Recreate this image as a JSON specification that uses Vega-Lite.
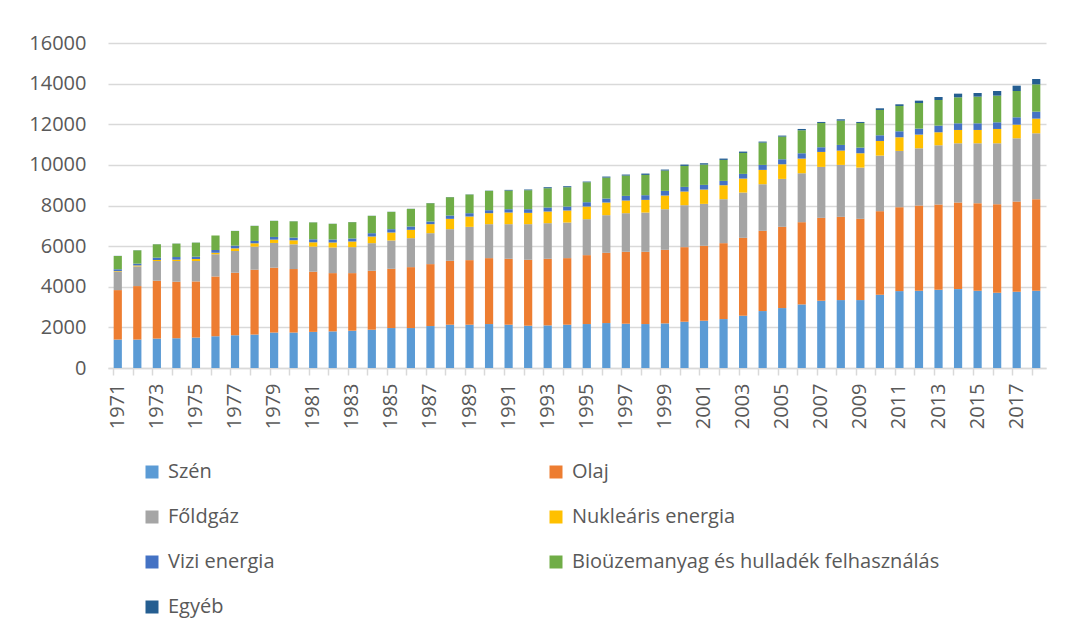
{
  "$schema": "https://vega.github.io/schema/vega-lite/v6.json",
  "autosize": "none",
  "width": 938,
  "height": 325,
  "padding": {"left": 108, "top": 43, "right": 23, "bottom": 265},
  "background": "white",
  "config": {
    "font": "Open Sans",
    "view": {"stroke": null},
    "axis": {"labelFont": "Open Sans", "labelColor": "#595959", "labelFontSize": 20}
  },
  "data": {
    "values": [
      {"ev": "1971", "Szén": 1400, "Olaj": 2435, "Főldgáz": 905, "Nukleáris energia": 30, "Vizi energia": 90, "Bioüzemanyag és hulladék felhasználás": 655, "Egyéb": 6},
      {"ev": "1972", "Szén": 1400, "Olaj": 2633, "Főldgáz": 970, "Nukleáris energia": 45, "Vizi energia": 90, "Bioüzemanyag és hulladék felhasználás": 655, "Egyéb": 6},
      {"ev": "1973", "Szén": 1448, "Olaj": 2848, "Főldgáz": 971, "Nukleáris energia": 50, "Vizi energia": 115, "Bioüzemanyag és hulladék felhasználás": 658, "Egyéb": 6},
      {"ev": "1974", "Szén": 1465, "Olaj": 2782, "Főldgáz": 1020, "Nukleáris energia": 66, "Vizi energia": 130, "Bioüzemanyag és hulladék felhasználás": 660, "Egyéb": 6},
      {"ev": "1975", "Szén": 1498, "Olaj": 2765, "Főldgáz": 1004, "Nukleáris energia": 99, "Vizi energia": 115, "Bioüzemanyag és hulladék felhasználás": 690, "Egyéb": 6},
      {"ev": "1976", "Szén": 1564, "Olaj": 2946, "Főldgáz": 1086, "Nukleáris energia": 83, "Vizi energia": 131, "Bioüzemanyag és hulladék felhasználás": 708, "Egyéb": 6},
      {"ev": "1977", "Szén": 1613, "Olaj": 3078, "Főldgáz": 1070, "Nukleáris energia": 131, "Vizi energia": 132, "Bioüzemanyag és hulladék felhasználás": 720, "Egyéb": 6},
      {"ev": "1978", "Szén": 1646, "Olaj": 3193, "Főldgáz": 1136, "Nukleáris energia": 165, "Vizi energia": 115, "Bioüzemanyag és hulladék felhasználás": 740, "Egyéb": 6},
      {"ev": "1979", "Szén": 1745, "Olaj": 3193, "Főldgáz": 1218, "Nukleáris energia": 164, "Vizi energia": 132, "Bioüzemanyag és hulladék felhasználás": 790, "Egyéb": 6},
      {"ev": "1980", "Szén": 1745, "Olaj": 3127, "Főldgáz": 1218, "Nukleáris energia": 198, "Vizi energia": 132, "Bioüzemanyag és hulladék felhasználás": 800, "Egyéb": 6},
      {"ev": "1981", "Szén": 1778, "Olaj": 2962, "Főldgáz": 1235, "Nukleáris energia": 214, "Vizi energia": 148, "Bioüzemanyag és hulladék felhasználás": 830, "Egyéb": 6},
      {"ev": "1982", "Szén": 1803, "Olaj": 2868, "Főldgáz": 1262, "Nukleáris energia": 246, "Vizi energia": 148, "Bioüzemanyag és hulladék felhasználás": 770, "Egyéb": 6},
      {"ev": "1983", "Szén": 1836, "Olaj": 2835, "Főldgáz": 1279, "Nukleáris energia": 278, "Vizi energia": 148, "Bioüzemanyag és hulladék felhasználás": 803, "Egyéb": 6},
      {"ev": "1984", "Szén": 1885, "Olaj": 2901, "Főldgáz": 1360, "Nukleáris energia": 328, "Vizi energia": 164, "Bioüzemanyag és hulladék felhasználás": 852, "Egyéb": 6},
      {"ev": "1985", "Szén": 1967, "Olaj": 2917, "Főldgáz": 1393, "Nukleáris energia": 394, "Vizi energia": 164, "Bioüzemanyag és hulladék felhasználás": 852, "Egyéb": 6},
      {"ev": "1986", "Szén": 1967, "Olaj": 2999, "Főldgáz": 1426, "Nukleáris energia": 410, "Vizi energia": 164, "Bioüzemanyag és hulladék felhasználás": 868, "Egyéb": 6},
      {"ev": "1987", "Szén": 2065, "Olaj": 3049, "Főldgáz": 1524, "Nukleáris energia": 443, "Vizi energia": 131, "Bioüzemanyag és hulladék felhasználás": 901, "Egyéb": 8},
      {"ev": "1988", "Szén": 2131, "Olaj": 3147, "Főldgáz": 1557, "Nukleáris energia": 508, "Vizi energia": 164, "Bioüzemanyag és hulladék felhasználás": 901, "Egyéb": 8},
      {"ev": "1989", "Szén": 2131, "Olaj": 3179, "Főldgáz": 1639, "Nukleáris energia": 509, "Vizi energia": 164, "Bioüzemanyag és hulladék felhasználás": 917, "Egyéb": 10},
      {"ev": "1990", "Szén": 2163, "Olaj": 3246, "Főldgáz": 1672, "Nukleáris energia": 541, "Vizi energia": 147, "Bioüzemanyag és hulladék felhasználás": 951, "Egyéb": 12},
      {"ev": "1991", "Szén": 2131, "Olaj": 3245, "Főldgáz": 1705, "Nukleáris energia": 573, "Vizi energia": 164, "Bioüzemanyag és hulladék felhasználás": 918, "Egyéb": 33},
      {"ev": "1992", "Szén": 2082, "Olaj": 3245, "Főldgáz": 1754, "Nukleáris energia": 557, "Vizi energia": 180, "Bioüzemanyag és hulladék felhasználás": 934, "Egyéb": 35},
      {"ev": "1993", "Szén": 2098, "Olaj": 3278, "Főldgáz": 1754, "Nukleáris energia": 574, "Vizi energia": 196, "Bioüzemanyag és hulladék felhasználás": 951, "Egyéb": 49},
      {"ev": "1994", "Szén": 2131, "Olaj": 3278, "Főldgáz": 1754, "Nukleáris energia": 590, "Vizi energia": 196, "Bioüzemanyag és hulladék felhasználás": 951, "Egyéb": 49},
      {"ev": "1995", "Szén": 2164, "Olaj": 3392, "Főldgáz": 1771, "Nukleáris energia": 622, "Vizi energia": 213, "Bioüzemanyag és hulladék felhasználás": 984, "Egyéb": 32},
      {"ev": "1996", "Szén": 2213, "Olaj": 3458, "Főldgáz": 1852, "Nukleáris energia": 623, "Vizi energia": 197, "Bioüzemanyag és hulladék felhasználás": 1032, "Egyéb": 49},
      {"ev": "1997", "Szén": 2180, "Olaj": 3540, "Főldgáz": 1902, "Nukleáris energia": 622, "Vizi energia": 230, "Bioüzemanyag és hulladék felhasználás": 1000, "Egyéb": 49},
      {"ev": "1998", "Szén": 2164, "Olaj": 3556, "Főldgáz": 1934, "Nukleáris energia": 623, "Vizi energia": 230, "Bioüzemanyag és hulladék felhasználás": 1000, "Egyéb": 65},
      {"ev": "1999", "Szén": 2196, "Olaj": 3622, "Főldgáz": 2000, "Nukleáris energia": 672, "Vizi energia": 230, "Bioüzemanyag és hulladék felhasználás": 1000, "Egyéb": 49},
      {"ev": "2000", "Szén": 2278, "Olaj": 3672, "Főldgáz": 2065, "Nukleáris energia": 672, "Vizi energia": 229, "Bioüzemanyag és hulladék felhasználás": 1033, "Egyéb": 66},
      {"ev": "2001", "Szén": 2327, "Olaj": 3688, "Főldgáz": 2065, "Nukleáris energia": 705, "Vizi energia": 230, "Bioüzemanyag és hulladék felhasználás": 1000, "Egyéb": 65},
      {"ev": "2002", "Szén": 2409, "Olaj": 3737, "Főldgáz": 2164, "Nukleáris energia": 688, "Vizi energia": 213, "Bioüzemanyag és hulladék felhasználás": 1033, "Egyéb": 66},
      {"ev": "2003", "Szén": 2573, "Olaj": 3836, "Főldgáz": 2229, "Nukleáris energia": 688, "Vizi energia": 230, "Bioüzemanyag és hulladék felhasználás": 1032, "Egyéb": 66},
      {"ev": "2004", "Szén": 2803, "Olaj": 3950, "Főldgáz": 2295, "Nukleáris energia": 705, "Vizi energia": 245, "Bioüzemanyag és hulladék felhasználás": 1099, "Egyéb": 49},
      {"ev": "2005", "Szén": 2950, "Olaj": 4000, "Főldgáz": 2360, "Nukleáris energia": 721, "Vizi energia": 246, "Bioüzemanyag és hulladék felhasználás": 1115, "Egyéb": 49},
      {"ev": "2006", "Szén": 3130, "Olaj": 4049, "Főldgáz": 2409, "Nukleáris energia": 722, "Vizi energia": 262, "Bioüzemanyag és hulladék felhasználás": 1131, "Egyéb": 65},
      {"ev": "2007", "Szén": 3311, "Olaj": 4081, "Főldgáz": 2508, "Nukleáris energia": 737, "Vizi energia": 230, "Bioüzemanyag és hulladék felhasználás": 1197, "Egyéb": 49},
      {"ev": "2008", "Szén": 3344, "Olaj": 4097, "Főldgáz": 2557, "Nukleáris energia": 705, "Vizi energia": 279, "Bioüzemanyag és hulladék felhasználás": 1196, "Egyéb": 66},
      {"ev": "2009", "Szén": 3344, "Olaj": 3999, "Főldgáz": 2524, "Nukleáris energia": 705, "Vizi energia": 278, "Bioüzemanyag és hulladék felhasználás": 1214, "Egyéb": 49},
      {"ev": "2010", "Szén": 3606, "Olaj": 4114, "Főldgáz": 2737, "Nukleáris energia": 721, "Vizi energia": 279, "Bioüzemanyag és hulladék felhasználás": 1246, "Egyéb": 82},
      {"ev": "2011", "Szén": 3786, "Olaj": 4130, "Főldgáz": 2770, "Nukleáris energia": 673, "Vizi energia": 295, "Bioüzemanyag és hulladék felhasználás": 1246, "Egyéb": 82},
      {"ev": "2012", "Szén": 3803, "Olaj": 4195, "Főldgáz": 2819, "Nukleáris energia": 673, "Vizi energia": 295, "Bioüzemanyag és hulladék felhasználás": 1262, "Egyéb": 115},
      {"ev": "2013", "Szén": 3852, "Olaj": 4196, "Főldgáz": 2917, "Nukleáris energia": 640, "Vizi energia": 327, "Bioüzemanyag és hulladék felhasználás": 1263, "Egyéb": 147},
      {"ev": "2014", "Szén": 3884, "Olaj": 4262, "Főldgáz": 2917, "Nukleáris energia": 656, "Vizi energia": 328, "Bioüzemanyag és hulladék felhasználás": 1279, "Egyéb": 180},
      {"ev": "2015", "Szén": 3803, "Olaj": 4310, "Főldgáz": 2950, "Nukleáris energia": 656, "Vizi energia": 328, "Bioüzemanyag és hulladék felhasználás": 1312, "Egyéb": 180},
      {"ev": "2016", "Szén": 3704, "Olaj": 4360, "Főldgáz": 2999, "Nukleáris energia": 705, "Vizi energia": 328, "Bioüzemanyag és hulladék felhasználás": 1312, "Egyéb": 229},
      {"ev": "2017", "Szén": 3753, "Olaj": 4442, "Főldgáz": 3114, "Nukleáris energia": 672, "Vizi energia": 361, "Bioüzemanyag és hulladék felhasználás": 1295, "Egyéb": 262},
      {"ev": "2018", "Szén": 3803, "Olaj": 4507, "Főldgáz": 3245, "Nukleáris energia": 722, "Vizi energia": 343, "Bioüzemanyag és hulladék felhasználás": 1344, "Egyéb": 263}
    ]
  },
  "transform": [
    {"fold": ["Szén", "Olaj", "Főldgáz", "Nukleáris energia", "Vizi energia", "Bioüzemanyag és hulladék felhasználás", "Egyéb"], "as": ["forras", "ertek"]},
    {"calculate": "indexof(['Szén', 'Olaj', 'Főldgáz', 'Nukleáris energia', 'Vizi energia', 'Bioüzemanyag és hulladék felhasználás', 'Egyéb'], datum.forras)", "as": "sorrend"}
  ],
  "mark": {"type": "bar"},
  "encoding": {
    "x": {
      "field": "ev", "type": "ordinal", "title": null,
      "scale": {"paddingInner": 0.58, "paddingOuter": 0.29},
      "axis": {
        "labelAngle": -90, "labelPadding": 8,
        "labelExpr": "toNumber(datum.value) % 2 == 1 ? datum.value : ''",
        "bandPosition": 0, "tickSize": 7, "tickColor": "#d9d9d9", "domainColor": "#d9d9d9", "domainWidth": 1.5,
        "tickWidth": 1.5, "grid": false
      }
    },
    "y": {
      "field": "ertek", "type": "quantitative", "aggregate": "sum", "title": null, "stack": "zero",
      "scale": {"domain": [0, 16000], "nice": false},
      "axis": {
        "values": [0, 2000, 4000, 6000, 8000, 10000, 12000, 14000, 16000],
        "format": "d", "domain": false, "ticks": false, "labelPadding": 22,
        "gridColor": "#d9d9d9", "gridWidth": 1.3
      }
    },
    "order": {"field": "sorrend", "type": "quantitative", "sort": "ascending"},
    "color": {
      "field": "forras", "type": "nominal", "title": null,
      "sort": ["Szén", "Olaj", "Főldgáz", "Nukleáris energia", "Vizi energia", "Bioüzemanyag és hulladék felhasználás", "Egyéb"],
      "scale": {
        "domain": ["Szén", "Olaj", "Főldgáz", "Nukleáris energia", "Vizi energia", "Bioüzemanyag és hulladék felhasználás", "Egyéb"],
        "range": ["#5B9BD5", "#ED7D31", "#A5A5A5", "#FFC000", "#4472C4", "#70AD47", "#255E91"]
      },
      "legend": {
        "orient": "none", "legendX": 34, "legendY": 419, "direction": "horizontal", "columns": 2,
        "symbolType": "square", "symbolSize": 169, "symbolStrokeWidth": 0, "symbolOpacity": 1,
        "labelFont": "Open Sans", "labelFontSize": 20, "labelColor": "#595959", "labelOffset": 6,
        "labelLimit": 600, "rowPadding": 25, "columnPadding": 271, "padding": 0
      }
    }
  }
}
